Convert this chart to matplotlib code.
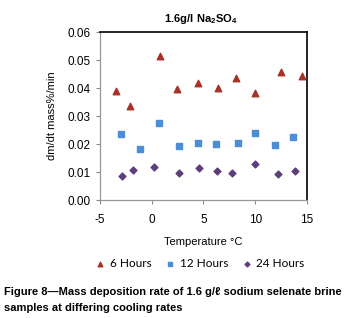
import matplotlib.pyplot as plt
from matplotlib.ticker import FormatStrFormatter

# data
temp_6h = [-3.45, -2.13, 0.83, 2.41, 4.44, 6.43, 8.11, 10.0, 12.49, 14.49]
rate_6h = [0.0390, 0.0336, 0.0514, 0.0398, 0.0417, 0.0400, 0.0436, 0.0382, 0.0458, 0.0442]

temp_12h = [-2.94, -1.17, 0.73, 2.63, 4.44, 6.21, 8.30, 10.0, 11.9, 13.68]
rate_12h = [0.0236, 0.0181, 0.0276, 0.0193, 0.0202, 0.0199, 0.0202, 0.0239, 0.0196, 0.0224]

temp_24h = [-2.87, -1.84, 0.22, 2.60, 4.54, 6.30, 7.78, 10.0, 12.2, 13.84]
rate_24h = [0.0086, 0.0107, 0.0119, 0.0098, 0.0115, 0.0104, 0.0095, 0.0127, 0.0094, 0.0104]

plt.rcParams['font.family'] = ['Liberation Sans', 'DejaVu Sans']
plt.rcParams['axes.unicode_minus'] = False
plt.rcParams['mathtext.fontset'] = 'custom'
plt.rcParams['mathtext.rm'] = 'Liberation Sans'
plt.rcParams['mathtext.bf'] = 'Liberation Sans:bold'

fig = plt.figure(figsize=(3.55, 3.18), dpi=100)
ax = fig.add_axes([0.2817, 0.371, 0.583, 0.528])

ax.scatter(temp_6h, rate_6h, marker='^', s=22, color='#A83228', label='6 Hours', zorder=3)
ax.scatter(temp_12h, rate_12h, marker='s', s=20, color='#4A8FD4', label='12 Hours', zorder=3)
ax.scatter(temp_24h, rate_24h, marker='D', s=12, color='#5B3E7A', label='24 Hours', zorder=3)

ax.set_xlim(-5, 15)
ax.set_ylim(0, 0.06)
ax.set_xticks([-5, 0, 5, 10, 15])
ax.set_yticks([0, 0.01, 0.02, 0.03, 0.04, 0.05, 0.06])
ax.yaxis.set_major_formatter(FormatStrFormatter('%.2f'))
ax.tick_params(labelsize=8.5, length=3, color='#888888', width=0.8)
ax.tick_params(axis='x', pad=7)

for side in ['left', 'bottom']:
    ax.spines[side].set_color('#999999')
    ax.spines[side].set_linewidth(0.9)
for side in ['top', 'right']:
    ax.spines[side].set_color('black')
    ax.spines[side].set_linewidth(1.2)

ax.set_xlabel('Temperature °C', fontsize=8, labelpad=8)
ax.set_ylabel('dm/dt mass%/min', fontsize=8, labelpad=8)

fig.text(0.565, 0.94, r'$\mathbf{1.6g/l\ Na_2SO_4}$', fontsize=8, ha='center', va='center')

fig.legend(loc='center', bbox_to_anchor=(0.565, 0.172), ncol=3, frameon=False,
           handlelength=0.6, handletextpad=0.5, columnspacing=1.3,
           markerscale=0.7, prop={'family': ['Lato', 'DejaVu Sans'], 'size': 8.5})

fig.text(0.01, 0.082, 'Figure 8—Mass deposition rate of 1.6 g/ℓ sodium selenate brine',
         fontsize=8.0, fontweight='bold', ha='left', va='center')
fig.text(0.01, 0.033, 'samples at differing cooling rates',
         fontsize=8.0, fontweight='bold', ha='left', va='center')

fig.savefig('out.png', dpi=100)
